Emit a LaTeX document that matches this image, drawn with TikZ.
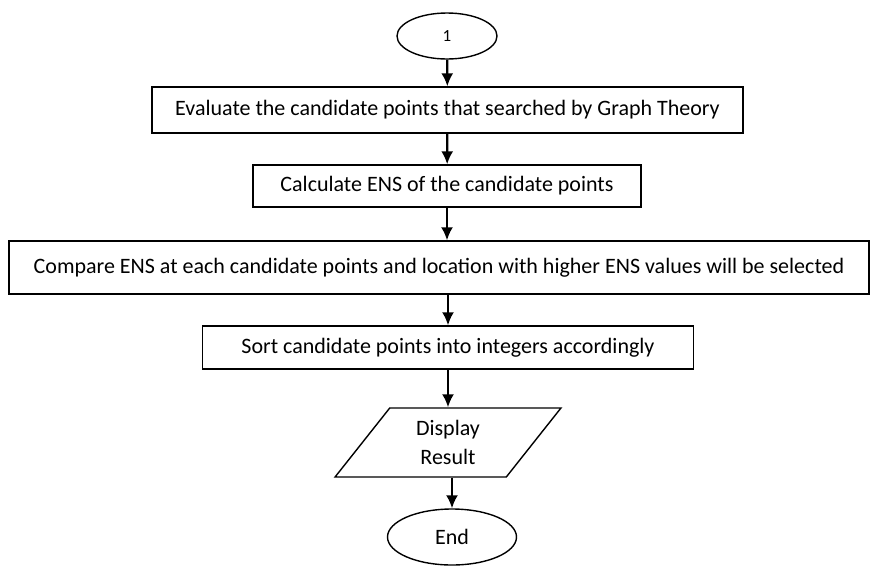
\documentclass[tikz,border=0pt]{standalone}
\usepackage{fontspec}
\setmainfont{Carlito}
\usetikzlibrary{shapes.geometric,arrows.meta}
\begin{document}
\begin{tikzpicture}[x=1pt,y=-1pt,line width=1.4pt,>={Latex[length=13pt,width=12pt]},
  every node/.style={font=\fontsize{22}{29}\selectfont},
  box/.style={draw,rectangle,inner sep=0pt},
  term/.style={draw,ellipse,inner sep=0pt},
  io/.style={draw,trapezium,trapezium left angle=56,trapezium right angle=124,
    trapezium stretches=true,inner sep=0pt,align=center},
  c/.style={->,line width=2.2pt}]

  \useasboundingbox (0,0) rectangle (870,566);

  \node[term,minimum width=100pt,minimum height=46pt,font=\fontsize{17}{20}\selectfont] (start) at (447,36) {1};
  \node[box,minimum width=591pt,minimum height=46pt] (eval) at (447.5,110)
    {Evaluate the candidate points that searched by Graph Theory};
  \node[box,minimum width=388pt,minimum height=42pt] (calc) at (447,186)
    {Calculate ENS of the candidate points};
  \node[box,minimum width=860pt,minimum height=53pt] (comp) at (439,267.5)
    {Compare ENS at each candidate points and location with higher ENS values will be selected};
  \node[box,minimum width=491pt,minimum height=43pt] (sort) at (448,347.5)
    {Sort candidate points into integers accordingly};
  \node[io,minimum width=226pt,minimum height=69pt] (disp) at (448,442.5) {Display\\Result};
  \node[term,minimum width=129pt,minimum height=56pt] (end) at (452,537) {End};

  % Flow arrows
  \draw[c] (start) -- (eval);
  \draw[c] (eval) -- (calc);
  \draw[c] (calc.south) -- (calc.south |- comp.north);
  \draw[c] (sort.north |- comp.south) -- (sort.north);
  \draw[c] (sort) -- (disp);
  \draw[c] (end.north |- disp.south) -- (end.north);

\end{tikzpicture}
\end{document}
